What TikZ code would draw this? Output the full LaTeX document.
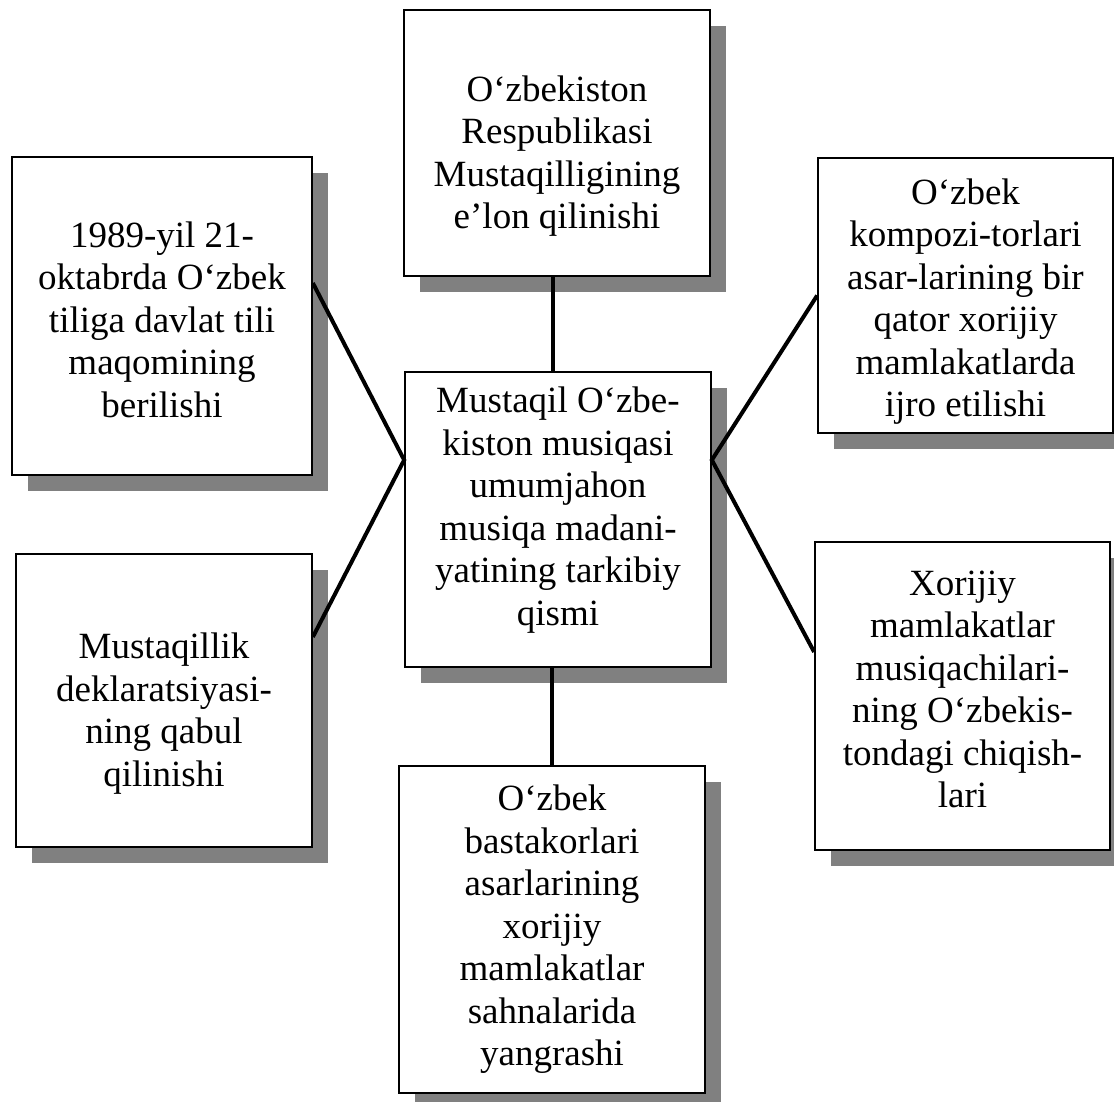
\documentclass[tikz,border=0pt]{standalone}
\usepackage{fontspec}
\setmainfont{Liberation Serif}
\usetikzlibrary{shadows}
\definecolor{shadowgray}{HTML}{808080}
\tikzset{
  box/.style={draw=black, line width=1.7pt, fill=white, inner sep=0pt,
    align=center, font=\fontsize{37}{42.5}\selectfont,
    general shadow={fill=shadowgray, shadow xshift=16pt, shadow yshift=-16pt}},
  conn/.style={line width=4pt, line join=miter}
}
\begin{document}
\begin{tikzpicture}[x=1pt,y=-1pt]
\useasboundingbox[fill=white] (0,0) rectangle (1114,1101);
\node[box, minimum width=306pt, minimum height=266pt] (t) at (557,143)
  {\rule{0pt}{52pt}O‘zbekiston\\Respublikasi\\Mustaqilligining\\e’lon qilinishi};
\node[box, minimum width=300pt, minimum height=318pt] (lt) at (162,316)
  {\rule{0pt}{33pt}1989-yil 21-\\oktabrda O‘zbek\\tiliga davlat tili\\maqomining\\berilishi};
\node[box, minimum width=295pt, minimum height=275pt] (rt) at (965.5,295.5)
  {\rule{0pt}{38pt}O‘zbek\\kompozi-torlari\\asar-larining bir\\qator xorijiy\\mamlakatlarda\\ijro etilishi};
\node[box, minimum width=306pt, minimum height=295pt] (c) at (558,519.5)
  {Mustaqil O‘zbe-\\kiston musiqasi\\umumjahon\\musiqa madani-\\yatining tarkibiy\\qismi\rule[-27pt]{0pt}{27pt}};
\node[box, minimum width=296pt, minimum height=293pt] (lb) at (164,700.5)
  {\rule{0pt}{52pt}Mustaqillik\\deklaratsiyasi-\\ning qabul\\qilinishi};
\node[box, minimum width=295pt, minimum height=308pt] (rb) at (962.5,696)
  {Xorijiy\\mamlakatlar\\musiqachilari-\\ning O‘zbekis-\\tondagi chiqish-\\lari\rule[-14pt]{0pt}{14pt}};
\node[box, minimum width=306pt, minimum height=327pt] (b) at (552,929.5)
  {O‘zbek\\bastakorlari\\asarlarining\\xorijiy\\mamlakatlar\\sahnalarida\\yangrashi};
\draw[conn] ([xshift=-4pt]t.south) -- ([xshift=-5pt]c.north);
\draw[conn] (c.south -| b.north) -- (b.north);
\draw[conn] ([yshift=33pt]lt.east) -- ([yshift=59.5pt]c.west) -- ([yshift=63.5pt]lb.east);
\draw[conn] (rt.west) -- ([yshift=59.5pt]c.east) -- ([yshift=44pt]rb.west);
\end{tikzpicture}
\end{document}
